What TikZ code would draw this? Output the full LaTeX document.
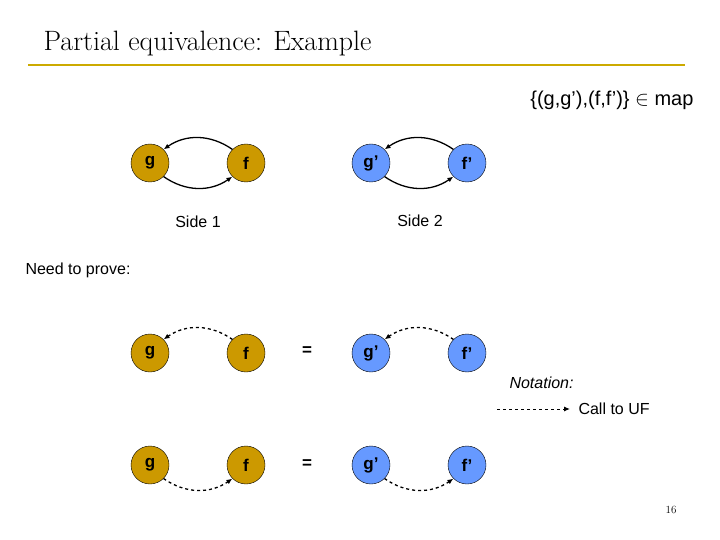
\documentclass[tikz,border=0pt]{standalone}
\usepackage{fontspec}
\setsansfont{Liberation Sans}
\usetikzlibrary{arrows.meta}
\definecolor{gold}{RGB}{204,153,0}
\definecolor{skyblue}{RGB}{102,153,255}
\definecolor{rulegold}{RGB}{204,170,0}
\tikzset{
  vert/.style={circle, draw=black, thin, minimum size=38pt, inner sep=0pt, font=\sffamily\bfseries\fontsize{17}{17}\selectfont},
  gvert/.style={vert, fill=gold},
  bvert/.style={vert, fill=skyblue},
  link/.style={-{Latex[length=6pt,width=5pt]}, line width=1.3pt},
  call/.style={link, dashed},
  lbl/.style={font=\sffamily\fontsize{16}{16}\selectfont}
}
\begin{document}
\begin{tikzpicture}[x=1pt,y=-1pt]
    \useasboundingbox (0,0) rectangle (720,540);
    % title
    \node[anchor=west, font=\fontsize{28}{28}\selectfont] (title) at (40,44) {Partial equivalence: Example};
    \draw[rulegold, line width=2pt] (28,65) -- (685,65);
    \node[lbl, anchor=east, font=\sffamily\fontsize{20}{20}\selectfont] (map) at (697,100) {\{(g,g'),(f,f')\} $\in$ map};

    % side 1 and side 2
    \node[gvert] (g1) at (150,163) {g};
    \node[gvert] (f1) at (246,163) {f};
    \node[bvert] (g2) at (371,163) {g'};
    \node[bvert] (f2) at (467,163) {f'};
    \foreach \a/\b in {g1/f1, g2/f2} {
      \draw[link] (\b.north west) to[bend right=35] (\a.north east);
      \draw[link] (\a.south east) to[bend right=35] (\b.south west);
    }
    \node[lbl] (s1) at (198,222) {Side 1};
    \node[lbl] (s2) at (420,221) {Side 2};
    \node[lbl, anchor=west] (need) at (22,270) {Need to prove:};

    % first case
    \node[gvert] (g3) at (150,353) {g};
    \node[gvert] (f3) at (246,353) {f};
    \node[lbl, font=\sffamily\bfseries\fontsize{17}{17}\selectfont] (eq1) at (307,351) {=};
    \node[bvert] (g4) at (371,353) {g'};
    \node[bvert] (f4) at (467,353) {f'};
    \draw[call] (f3.north west) to[bend right=35] (g3.north east);
    \draw[call] (f4.north west) to[bend right=35] (g4.north east);

    % notation
    \node[lbl, anchor=west, font=\sffamily\itshape\fontsize{16}{16}\selectfont] (note) at (506,383) {Notation:};
    \coordinate (c0) at (497,409);
    \coordinate (c1) at (570,409);
    \draw[call, line width=1pt] (c0) -- (c1);
    \node[lbl, anchor=west] (uf) at (575,409) {Call to UF};

    % second case
    \node[gvert] (g5) at (150,465) {g};
    \node[gvert] (f5) at (246,465) {f};
    \node[lbl, font=\sffamily\bfseries\fontsize{17}{17}\selectfont] (eq2) at (307,464) {=};
    \node[bvert] (g6) at (371,465) {g'};
    \node[bvert] (f6) at (467,465) {f'};
    \draw[call] (g5.south east) to[bend right=35] (f5.south west);
    \draw[call] (g6.south east) to[bend right=35] (f6.south west);

    \node[font=\fontsize{11}{11}\selectfont] (page) at (671,510) {16};
\end{tikzpicture}
\end{document}
